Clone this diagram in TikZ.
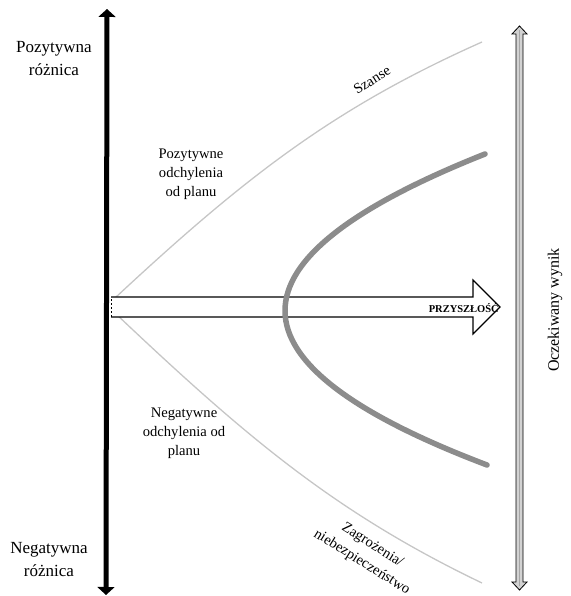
\documentclass[tikz,border=0pt]{standalone}
\usepackage{fontspec}
\setmainfont{Liberation Serif}
\usetikzlibrary{arrows.meta}

\begin{document}
\begin{tikzpicture}[x=1pt,y=1pt,
    lbl/.style={align=center,inner sep=0pt},
    bigtxt/.style={lbl,font=\fontsize{17}{23}\selectfont},
    midtxt/.style={lbl,font=\fontsize{14.6}{19}\selectfont},
    thincurve/.style={draw=gray!45,line width=1.3pt},
    fatcurve/.style={draw=gray!90,line width=5.5pt,line cap=round}]
\useasboundingbox (0,0) rectangle (570,596);

% coordinates of the two axes
\coordinate (ltop) at (107,587);
\coordinate (lbot) at (106,1);

% light curves
\coordinate (cstart) at (115,298);
\coordinate (cup) at (482,554);
\coordinate (tstart) at (115,283);
\coordinate (tdown) at (482,13);
\path[thincurve] (cstart) .. controls (247,421) and (336,489) .. (cup);
\path[thincurve] (tstart) .. controls (247,158) and (336,83) .. (tdown);

% future arrow
\coordinate (fa1) at (111,299);
\coordinate (fa2) at (473,299);
\coordinate (fa3) at (473,316);
\coordinate (tip) at (500,289);
\coordinate (fa5) at (473,262);
\coordinate (fa6) at (473,279);
\coordinate (fa7) at (111,279);
\fill[white] (fa1) -- (fa2) -- (fa3) -- (tip) -- (fa5) -- (fa6) -- (fa7) -- cycle;
\draw[line width=1.2pt,line join=miter] (fa1) -- (fa2) -- (fa3) -- (tip) -- (fa5) -- (fa6) -- (fa7);
\draw[line width=0.8pt,dashed,dash pattern=on 2pt off 2pt] (fa7) -- (fa1);

% expected result curve
\coordinate (pup) at (485,442);
\coordinate (pdown) at (487,131);
\path[fatcurve] (pup) .. controls (218,336) and (218,233) .. (pdown);

% left axis
\draw[line width=5pt,{Triangle[width=17pt,length=8pt]}-{Triangle[width=17pt,length=8pt]}] (lbot) -- (ltop);

% right axis
\draw[fill=gray!35,line width=0.8pt] (516,562) -- (512,562) -- (519.5,570) -- (527,562) -- (523,562)
    -- (523,14) -- (527,14) -- (519.5,6) -- (512,14) -- (516,14) -- cycle;
\draw[gray!70,line width=0.8pt] (519.5,566) -- (519.5,10);

% labels
\node[bigtxt] (postop) at (54,537) {Pozytywna\\różnica};
\node[bigtxt] (negbot) at (49,36) {Negatywna\\różnica};
\node[midtxt] (posdev) at (191,422) {Pozytywne\\odchylenia\\od planu};
\node[midtxt] (negdev) at (184,163) {Negatywne\\odchylenia od\\planu};
\node[midtxt,rotate=32] (chance) at (372,516) {Szanse};
\node[lbl,rotate=-32,font=\fontsize{14.6}{20}\selectfont] (threat) at (367,42) {Zagrożenia/\\niebezpieczeństwo};
\node[lbl,rotate=90,font=\fontsize{16}{19}\selectfont] (expected) at (555,286) {Oczekiwany wynik};
\node[lbl,anchor=east,font=\bfseries\fontsize{10.5}{12}\selectfont] (future) at (499,288) {PRZYSZŁOŚĆ};
\end{tikzpicture}
\end{document}
